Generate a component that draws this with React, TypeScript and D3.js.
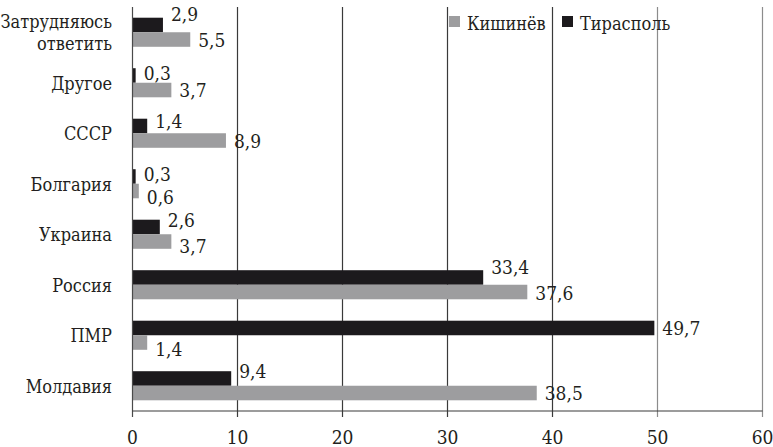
import React from "react";
import * as d3 from "d3";

const categories = ["Затрудняюсь ответить", "Другое", "СССР", "Болгария", "Украина", "Россия", "ПМР", "Молдавия"];
const categoryLines = [["Затрудняюсь", "ответить"], ["Другое"], ["СССР"], ["Болгария"], ["Украина"], ["Россия"], ["ПМР"], ["Молдавия"]];
const tiraspol = [2.9, 0.3, 1.4, 0.3, 2.6, 33.4, 49.7, 9.4];
const kishinev = [5.5, 3.7, 8.9, 0.6, 3.7, 37.6, 1.4, 38.5];
const xTicks = [0, 10, 20, 30, 40, 50, 60];
const seriesNames = ["Кишинёв", "Тирасполь"];

// label vertical nudges (styling only)
const nudgeT = [-11, -2, -5, -2, -7, -10, 0, -7];
const nudgeK = [0, 0, 0, 6, 4, 1, 6, 0];

const W = 773;
const H = 447;
const FONT = "'DejaVu Serif Condensed', 'DejaVu Serif', serif";
const TEXT = "#231f20";
const GRAY = "#9d9d9f";
const BLACK = "#1c1a1d";

export default function App() {
  const x = d3.scaleLinear().domain([0, 60]).range([132.5, 762.5]);
  const y = d3.scaleBand<string>().domain(categories).range([7, 411]);
  const bh = y.bandwidth() * 0.288;
  const fmt = (v: number) => String(v).replace(".", ",");
  const axisY = 411;
  const ts = { fontFamily: FONT, fontSize: "18px", fontStretch: "condensed" } as React.CSSProperties;
  const tsBig = { ...ts, fontSize: "19px" } as React.CSSProperties;

  return (
    <svg width={W} height={H} style={{ position: "absolute", left: 0, top: 0, background: "#fff" }}>
      <rect x={0} y={0} width={W} height={H} fill="#fff" />
      {xTicks.slice(1).map((t) => (
        <line key={"g" + t} x1={x(t)} x2={x(t)} y1={7} y2={axisY + 6} stroke={t >= 50 ? "#8c8c8c" : "#3a3a3a"} strokeWidth={1.2} />
      ))}
      {categories.map((c, i) => {
        const cy = (y(c) as number) + y.bandwidth() / 2;
        return (
          <g key={c}>
            <rect x={x(0)} y={cy - bh} width={x(tiraspol[i]) - x(0)} height={bh} fill={BLACK} />
            <rect x={x(0)} y={cy} width={x(kishinev[i]) - x(0)} height={bh} fill={GRAY} />
            <text x={x(tiraspol[i]) + 8} y={cy - bh / 2 + 7 + nudgeT[i]} style={tsBig} fill={TEXT}>{fmt(tiraspol[i])}</text>
            <text x={x(kishinev[i]) + 8} y={cy + bh / 2 + 7 + nudgeK[i]} style={tsBig} fill={TEXT}>{fmt(kishinev[i])}</text>
            {categoryLines[i].map((ln, j) => (
              <text key={j} x={112} y={cy + 7 + (j - (categoryLines[i].length - 1) / 2) * 22} textAnchor="end" style={ts} fill={TEXT}>{ln}</text>
            ))}
          </g>
        );
      })}
      <line x1={x(0)} x2={x(0)} y1={7} y2={axisY + 6} stroke="#4a4a4a" strokeWidth={1.2} />
      <line x1={x(0)} x2={x(60)} y1={axisY} y2={axisY} stroke="#3a3a3a" strokeWidth={1.2} />
      {xTicks.map((t) => (
        <text key={"t" + t} x={x(t)} y={444} textAnchor="middle" style={tsBig} fill={TEXT}>{t}</text>
      ))}
      <rect x={449} y={16} width={11} height={11} fill={GRAY} />
      <text x={467} y={30} style={ts} fill={TEXT}>{seriesNames[0]}</text>
      <rect x={562} y={16} width={11} height={11} fill={BLACK} />
      <text x={580} y={30} style={ts} fill={TEXT}>{seriesNames[1]}</text>
    </svg>
  );
}
